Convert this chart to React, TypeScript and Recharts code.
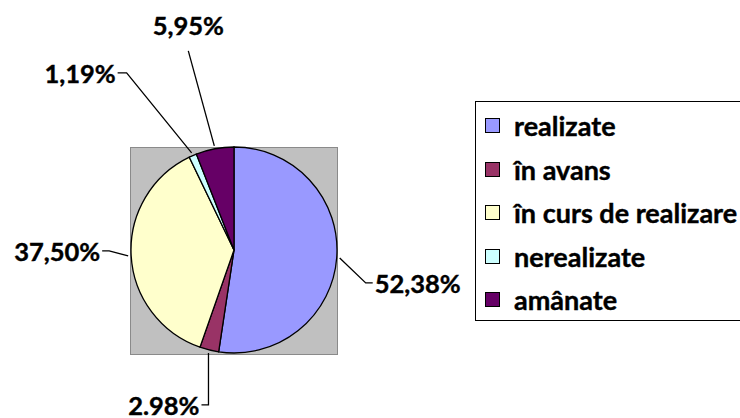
import React from 'react';
import { PieChart, Pie, Cell, Legend } from 'recharts';

const categories = ['realizate', 'în avans', 'în curs de realizare', 'nerealizate', 'amânate'];
const values = [52.38, 2.98, 37.5, 1.19, 5.95];
const valueLabels = ['52,38%', '2.98%', '37,50%', '1,19%', '5,95%'];
const colors = ['#9999FF', '#993366', '#FFFFCC', '#CCFFFF', '#660066'];

const data = categories.map((name, i) => ({ name, value: values[i], label: valueLabels[i] }));

// where each leader line bends, relative to the slice edge, and how the text hangs off it
const labelLayout = [
  { dx: 26, dy: 25, tail: 7, anchor: 'start' },
  { dx: 0, dy: 52, tail: -7, anchor: 'end' },
  { dx: -19, dy: -5, tail: -7, anchor: 'end' },
  { dx: -65, dy: -80, tail: -9, anchor: 'end' },
  { dx: -26, dy: -95, tail: 0, anchor: 'middle' },
];

const FONT = 'Lato, "Open Sans", sans-serif';
const RAD = Math.PI / 180;

const renderLabel = (props: any) => {
  const { cx, cy, midAngle, outerRadius, index, payload } = props;
  const lay = labelLayout[index];
  const r = outerRadius + 3;
  const sx = cx + r * Math.cos(-midAngle * RAD);
  const sy = cy + r * Math.sin(-midAngle * RAD);
  const ex = sx + lay.dx;
  const ey = sy + lay.dy;
  const tx = ex + lay.tail;
  const textX = lay.anchor === 'start' ? tx + 2 : lay.anchor === 'end' ? tx - 2 : ex;
  const textY = lay.anchor === 'middle' ? ey - 26 : ey;
  return (
    <g>
      <polyline points={`${sx},${sy} ${ex},${ey} ${tx},${ey}`} fill="none" stroke="#000" strokeWidth={1.3} />
      <text
        x={textX}
        y={textY}
        textAnchor={lay.anchor}
        dominantBaseline="central"
        fontFamily={FONT}
        fontWeight={700}
        fontSize={25.5}
        stroke="#000"
        strokeWidth={0.4}
        fill="#000"
      >
        {payload.label}
      </text>
    </g>
  );
};

const renderLegend = () => (
  <div
    style={{
      width: 290,
      height: 220,
      border: '1.5px solid #000',
      boxSizing: 'border-box',
      background: '#fff',
      paddingTop: 2,
    }}
  >
    {categories.map((name, i) => (
      <div key={name} style={{ display: 'flex', alignItems: 'center', height: 43.5, paddingLeft: 9 }}>
        <span
          style={{
            display: 'inline-block',
            width: 13,
            height: 13,
            background: colors[i],
            border: '1.3px solid #000',
            marginRight: 14,
            flexShrink: 0,
          }}
        />
        <span
          style={{
            fontFamily: FONT,
            fontWeight: 700,
            fontSize: 27,
            color: '#000',
            whiteSpace: 'nowrap',
            WebkitTextStroke: '0.4px #000',
          }}
        >
          {name}
        </span>
      </div>
    ))}
  </div>
);

export default function App() {
  return (
    <div style={{ position: 'absolute', left: 0, top: 0, width: 740, height: 418, overflow: 'hidden', background: '#fff' }}>
      <div
        style={{
          position: 'absolute',
          left: 130,
          top: 147,
          width: 208,
          height: 208,
          background: '#C0C0C0',
          border: '1.5px solid #8a8a8a',
          boxSizing: 'border-box',
        }}
      />
      <div style={{ position: 'absolute', left: 0, top: 0 }}>
        <PieChart width={740} height={418} margin={{ top: 0, right: 0, bottom: 0, left: 0 }}>
          <Pie
            data={data}
            dataKey="value"
            nameKey="name"
            cx={234}
            cy={250}
            outerRadius={103}
            startAngle={90}
            endAngle={-270}
            stroke="#000"
            strokeWidth={1.3}
            label={renderLabel}
            labelLine={false}
            isAnimationActive={false}
          >
            {data.map((d, i) => (
              <Cell key={d.name} fill={colors[i]} />
            ))}
          </Pie>
          <Legend
            layout="vertical"
            align="right"
            verticalAlign="top"
            content={renderLegend}
            wrapperStyle={{ left: 475, top: 101, width: 290 }}
          />
        </PieChart>
      </div>
    </div>
  );
}
